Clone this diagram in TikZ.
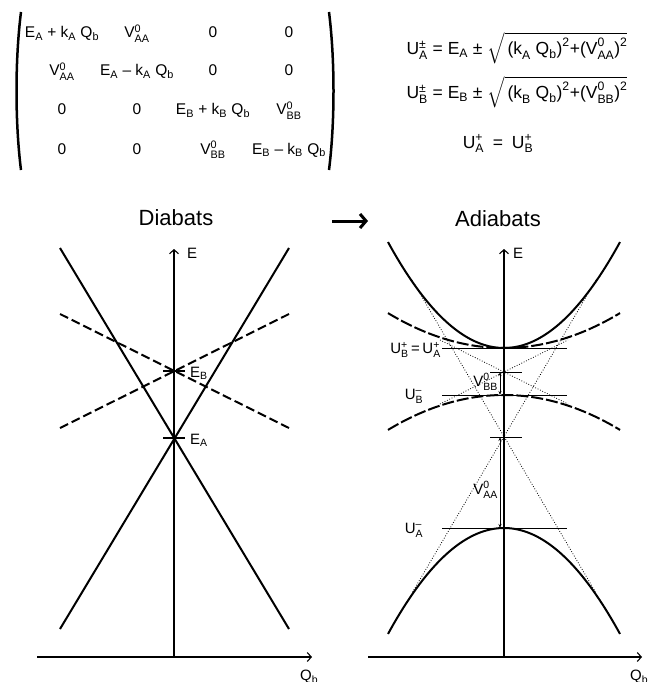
\documentclass[tikz,border=0pt]{standalone}
\usepackage{fontspec}
\usepackage{amsmath}
\setmainfont{Liberation Sans}
\usetikzlibrary{arrows.meta}
\newcommand\sbs[1]{$_{\text{#1}}$}
\newcommand\sps[2]{$^{\text{#1}}_{\text{#2}}$}
\tikzset{
  mtx/.style={inner sep=0pt, anchor=base, font=\fontsize{15.5}{18}\selectfont},
  eqn/.style={inner sep=0pt, anchor=base, font=\fontsize{17.5}{20}\selectfont},
  lab/.style={inner sep=0pt, font=\fontsize{15}{18}\selectfont},
  ttl/.style={inner sep=0pt, font=\fontsize{22}{26}\selectfont},
  axis/.style={line width=1.1pt, -{Straight Barb[length=4pt,width=9pt,line width=1.1pt]}},
  diab/.style={line width=2pt},
  diabd/.style={line width=2pt, dash pattern=on 9pt off 4pt},
  adiab/.style={line width=2pt},
  adiabd/.style={line width=2pt, dash pattern=on 12pt off 3pt},
  dotl/.style={line width=0.8pt, dash pattern=on 0.8pt off 1.8pt},
  level/.style={line width=0.8pt},
  tickl/.style={line width=1.2pt},
  gap/.style={line width=0.8pt, {Stealth[length=4pt,width=3pt]}-{Stealth[length=4pt,width=3pt]}},
  paren/.style={line width=2.5pt},
  bigarrow/.style={line width=3pt, -{Straight Barb[length=6pt,width=14pt,line width=3pt]}}
}
\begin{document}
\begin{tikzpicture}[x=1pt,y=-1pt]
\useasboundingbox (0,0) rectangle (655,682);

% ---------- matrix ----------
\draw[paren] (21,12) .. controls (15,60) and (15,122) .. (21,170);
\draw[paren] (329,12) .. controls (335,60) and (335,122) .. (329,170);
\node[mtx] (m11) at (62,38)  {E\sbs{A} + k\sbs{A} Q\sbs{b}};
\node[mtx] (m12) at (137,38) {V\sps{0}{AA}};
\node[mtx] (m13) at (213,38) {0};
\node[mtx] (m14) at (289,38) {0};
\node[mtx] (m21) at (62,76)  {V\sps{0}{AA}};
\node[mtx] (m22) at (137,76) {E\sbs{A} – k\sbs{A} Q\sbs{b}};
\node[mtx] (m23) at (213,76) {0};
\node[mtx] (m24) at (289,76) {0};
\node[mtx] (m31) at (62,115)  {0};
\node[mtx] (m32) at (137,115) {0};
\node[mtx] (m33) at (213,115) {E\sbs{B} + k\sbs{B} Q\sbs{b}};
\node[mtx] (m34) at (289,115) {V\sps{0}{BB}};
\node[mtx] (m41) at (62,154)  {0};
\node[mtx] (m42) at (137,154) {0};
\node[mtx] (m43) at (213,154) {V\sps{0}{BB}};
\node[mtx] (m44) at (289,154) {E\sbs{B} – k\sbs{B} Q\sbs{b}};

% ---------- equations ----------
\node[eqn] (eq1) at (517,55) {U\sps{±}{A} = E\sbs{A} ± $\sqrt{\,\text{(k}_{\text{A}}\text{ Q}_{\text{b}}\text{)}^{\text{2}}\text{+(V}^{\text{0}}_{\text{AA}}\text{)}^{\text{2}}}$};
\node[eqn] (eq2) at (517,99) {U\sps{±}{B} = E\sbs{B} ± $\sqrt{\,\text{(k}_{\text{B}}\text{ Q}_{\text{b}}\text{)}^{\text{2}}\text{+(V}^{\text{0}}_{\text{BB}}\text{)}^{\text{2}}}$};
\node[eqn] (eq3) at (498,148) {U\sps{+}{A}\enspace=\enspace U\sps{+}{B}};

% ---------- titles ----------
\node[ttl] (tdia) at (176,218) {Diabats};
\node[ttl] (tadia) at (498,219) {Adiabats};
\coordinate (arS) at (332,221);
\coordinate (arE) at (368,221);
\draw[bigarrow] (arS) -- (arE);

% ---------- left panel ----------
\coordinate (lO) at (174,657);
\coordinate (lTop) at (174,249);
\coordinate (lXs) at (37,657);
\coordinate (lXe) at (312,657);
\draw[axis] (lO) -- (lTop);
\draw[axis] (lXs) -- (lXe);
\node[lab, anchor=west] (lE) at (187,253) {E};
\node[lab, anchor=north west] (lQ) at (300,670) {Q\sbs{b}};

\coordinate (a1) at (60,248);  \coordinate (a2) at (289,629);
\coordinate (a3) at (289,248); \coordinate (a4) at (60,629);
\draw[diab] (a1) -- (a2);
\draw[diab] (a3) -- (a4);
\coordinate (b1) at (60,314);  \coordinate (b2) at (289,428);
\coordinate (b3) at (60,428);  \coordinate (b4) at (289,314);
\draw[diabd] (b1) -- (b2);
\draw[diabd] (b3) -- (b4);
\coordinate (tB1) at (163,371); \coordinate (tB2) at (185,371);
\coordinate (tA1) at (163,438); \coordinate (tA2) at (185,438);
\draw[tickl] (tB1) -- (tB2);
\draw[tickl] (tA1) -- (tA2);
\node[lab, anchor=west] (lEB) at (190,373) {E\sbs{B}};
\node[lab, anchor=west] (lEA) at (190,440) {E\sbs{A}};

% ---------- right panel ----------
\coordinate (rO) at (504,657);
\coordinate (rTop) at (504,249);
\coordinate (rXs) at (368,657);
\coordinate (rXe) at (642,657);
\draw[axis] (rO) -- (rTop);
\draw[axis] (rXs) -- (rXe);
\node[lab, anchor=west] (rE) at (513,253) {E};
\node[lab, anchor=north west] (rQ) at (630,670) {Q\sbs{b}};

% dotted diabats
\coordinate (d1) at (412,280); \coordinate (d2) at (596,593);
\coordinate (d3) at (596,280); \coordinate (d4) at (412,593);
\coordinate (d5) at (440,340); \coordinate (d6) at (568,404);
\coordinate (d7) at (440,404); \coordinate (d8) at (568,340);
\draw[dotl] (d1) -- (d2);
\draw[dotl] (d3) -- (d4);
\draw[dotl] (d5) -- (d6);
\draw[dotl] (d7) -- (d8);

% adiabats
\draw[adiab] plot[domain=-116:116, samples=81] ({504+\x},{348-0.007877*\x*\x});
\draw[adiabd] plot[domain=-116:116, samples=81] ({504+\x},{348-0.002601*\x*\x});
\draw[adiabd] plot[domain=-116:116, samples=81] ({504+\x},{395+0.002601*\x*\x});
\draw[adiab] plot[domain=-116:116, samples=81] ({504+\x},{528+0.007877*\x*\x});

% levels
\coordinate (h1a) at (442,348); \coordinate (h1b) at (567,348);
\coordinate (h2a) at (490,372); \coordinate (h2b) at (522,372);
\coordinate (h3a) at (442,395); \coordinate (h3b) at (567,395);
\coordinate (h4a) at (490,437); \coordinate (h4b) at (522,437);
\coordinate (h5a) at (442,528); \coordinate (h5b) at (567,528);
\draw[level] (h1a) -- (h1b);
\draw[level] (h2a) -- (h2b);
\draw[level] (h3a) -- (h3b);
\draw[level] (h4a) -- (h4b);
\draw[level] (h5a) -- (h5b);

% gaps
\coordinate (g1a) at (500,372); \coordinate (g1b) at (500,395);
\coordinate (g2a) at (500,437); \coordinate (g2b) at (500,528);
\draw[gap] (g1a) -- (g1b);
\draw[gap] (g2a) -- (g2b);

\node[lab, anchor=east] (lUp) at (441,350) {U\sps{+}{B}\,=\,U\sps{+}{A}};
\node[lab, anchor=east] (lVB) at (498,382) {V\sps{0}{BB}};
\node[lab] (lUBm) at (414,396) {U\sps{–}{B}};
\node[lab, anchor=east] (lVA) at (498,490) {V\sps{0}{AA}};
\node[lab] (lUAm) at (414,530) {U\sps{–}{A}};
\end{tikzpicture}
\end{document}
